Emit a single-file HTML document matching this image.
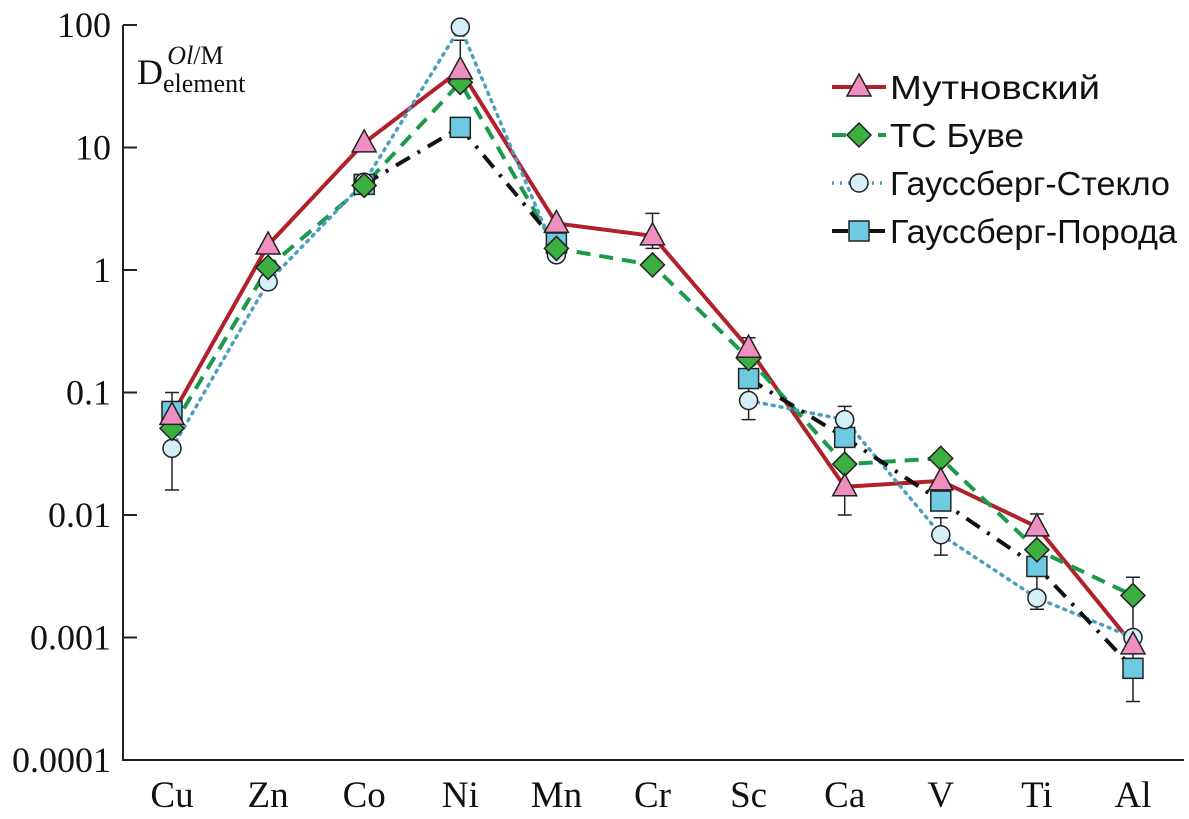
<!DOCTYPE html>
<html><head><meta charset="utf-8"><style>
body{margin:0;background:#fff;}
svg{display:block;font-family:"Liberation Serif",serif;}
</style></head><body>
<svg id="chart" width="1189" height="819" viewBox="0 0 1189 819"></svg>
<script>
const categories=["Cu","Zn","Co","Ni","Mn","Cr","Sc","Ca","V","Ti","Al"];
const mutnovsky=[0.065,1.6,10.9,43,2.4,1.9,0.23,0.017,0.019,0.008,0.00087];
const bouvet=[0.051,1.05,4.9,34,1.5,1.1,0.19,0.026,0.029,0.0052,0.0022];
const glass=[0.035,0.8,5.2,96,1.33,null,0.086,0.06,0.0069,0.0021,0.001];
const rock=[0.07,null,5.0,14.6,1.66,null,0.13,0.043,0.013,0.0038,0.00056];
const tickValues=[100,10,1,0.1,0.01,0.001,0.0001];
const tickLabels=["100","10","1","0.1","0.01","0.001","0.0001"];
const legendLabels=["Мутновский","ТС Буве","Гауссберг-Стекло","Гауссберг-Порода"];

const NS="http://www.w3.org/2000/svg";
const svg=document.getElementById('chart');
const L=123,R=1184,T=25,B=760;
function x(i){return 172+i*96.1;}
function y(v){return 270-122.5*Math.log10(v);}
function el(tag,attrs,parent){const e=document.createElementNS(NS,tag);for(const k in attrs)e.setAttribute(k,attrs[k]);(parent||svg).appendChild(e);return e;}

let a=el('path',{d:`M${L},${T} L${L},${B} L${R},${B}`,fill:'none',stroke:'#222','stroke-width':2});


tickValues.forEach((v,i)=>{
  const t=el('line',{x1:L,x2:L+14,y1:y(v),y2:y(v),stroke:'#222','stroke-width':2});
  
  
  const tx=el('text',{x:L-12,y:y(v)+12,'text-anchor':'end','font-size':36,fill:'#111'});
  tx.textContent=tickLabels[i];
  
  
});
categories.forEach((c,i)=>{
  const tx=el('text',{x:x(i),y:807,'text-anchor':'middle','font-size':37,fill:'#111'});
  tx.textContent=c;
  
  
});
const yt=el('text',{x:137,y:84,'font-size':36,fill:'#111'});


yt.innerHTML='D<tspan dy="8" font-size="26">element</tspan><tspan dx="-78" dy="-28" font-size="26" font-style="italic">Ol</tspan><tspan font-size="26">/M</tspan>';

const series=[
 {name:'mutnovsky',data:mutnovsky,stroke:'#b0212b',dash:'',w:4,marker:'tri',fill:'#ee8fbf'},
 {name:'bouvet',data:bouvet,stroke:'#1a9a4a',dash:'14,9',w:4,marker:'dia',fill:'#3bb040'},
 {name:'glass',data:glass,stroke:'#4a9fc0',dash:'2,6',w:3.5,marker:'cir',fill:'#d6eef8'},
 {name:'rock',data:rock,stroke:'#111',dash:'16,9,3,9',w:4,marker:'sq',fill:'#6ecae0'}
];
function marker(type,cx,cy,fill,parent){
  let m;
  if(type==='tri')m=el('polygon',{points:`${cx},${cy-13} ${cx-12},${cy+9} ${cx+12},${cy+9}`},parent);
  else if(type==='dia')m=el('polygon',{points:`${cx},${cy-12} ${cx+12},${cy} ${cx},${cy+12} ${cx-12},${cy}`},parent);
  else if(type==='cir')m=el('circle',{cx:cx,cy:cy,r:9},parent);
  else m=el('rect',{x:cx-10,y:cy-10,width:20,height:20},parent);
  m.setAttribute('fill',fill);m.setAttribute('stroke','#222');m.setAttribute('stroke-width',1.5);
  return m;
}
const errCats=[0,3,5,6,7,8,9,10];
const errLo=[0.016,30,1.5,0.06,0.01,0.0047,0.0017,0.0003];
const errHi=[0.1,75,2.9,0.28,0.077,0.0095,0.0102,0.0031];
errCats.forEach((c,i)=>{
  const g=el('path',{d:`M${x(c)},${y(errLo[i])} L${x(c)},${y(errHi[i])} M${x(c)-7},${y(errLo[i])} h14 M${x(c)-7},${y(errHi[i])} h14`,stroke:'#222','stroke-width':1.5,fill:'none'});
  
  
});
series.forEach(s=>{
  const g=el('g',{});
  
  
  let d='',prev=false;
  s.data.forEach((v,i)=>{
    if(v==null){prev=false;return;}
    d+=(prev?'L':'M')+x(i)+','+y(v)+' ';prev=true;
  });
  const p=el('path',{d:d,fill:'none',stroke:s.stroke,'stroke-width':s.w,'stroke-dasharray':s.dash,'stroke-linecap':s.marker==='cir'?'round':'butt'},g);
  
  
});
series.slice().reverse().forEach(s=>{
  s.data.forEach((v,i)=>{if(v==null)return;
    const m=marker(s.marker,x(i),y(v),s.fill);
    
    
  });
});
const lg=el('g',{});


series.forEach((s,i)=>{
  const ly=87+i*48;
  const ln=el('line',{x1:832,x2:886,y1:ly,y2:ly,stroke:s.stroke,'stroke-width':s.w,'stroke-dasharray':s.dash},lg);
  
  
  const m=marker(s.marker,859,ly,s.fill,lg);
  
  
  const t=el('text',{x:890,y:ly+12,'font-size':33,fill:'#111','font-family':'Liberation Sans, sans-serif',textLength:i===0?210:(i===1?134:(i===2?280:287)),lengthAdjust:'spacingAndGlyphs'},lg);
  t.textContent=legendLabels[i];
  
  
});
</script>
</body></html>
